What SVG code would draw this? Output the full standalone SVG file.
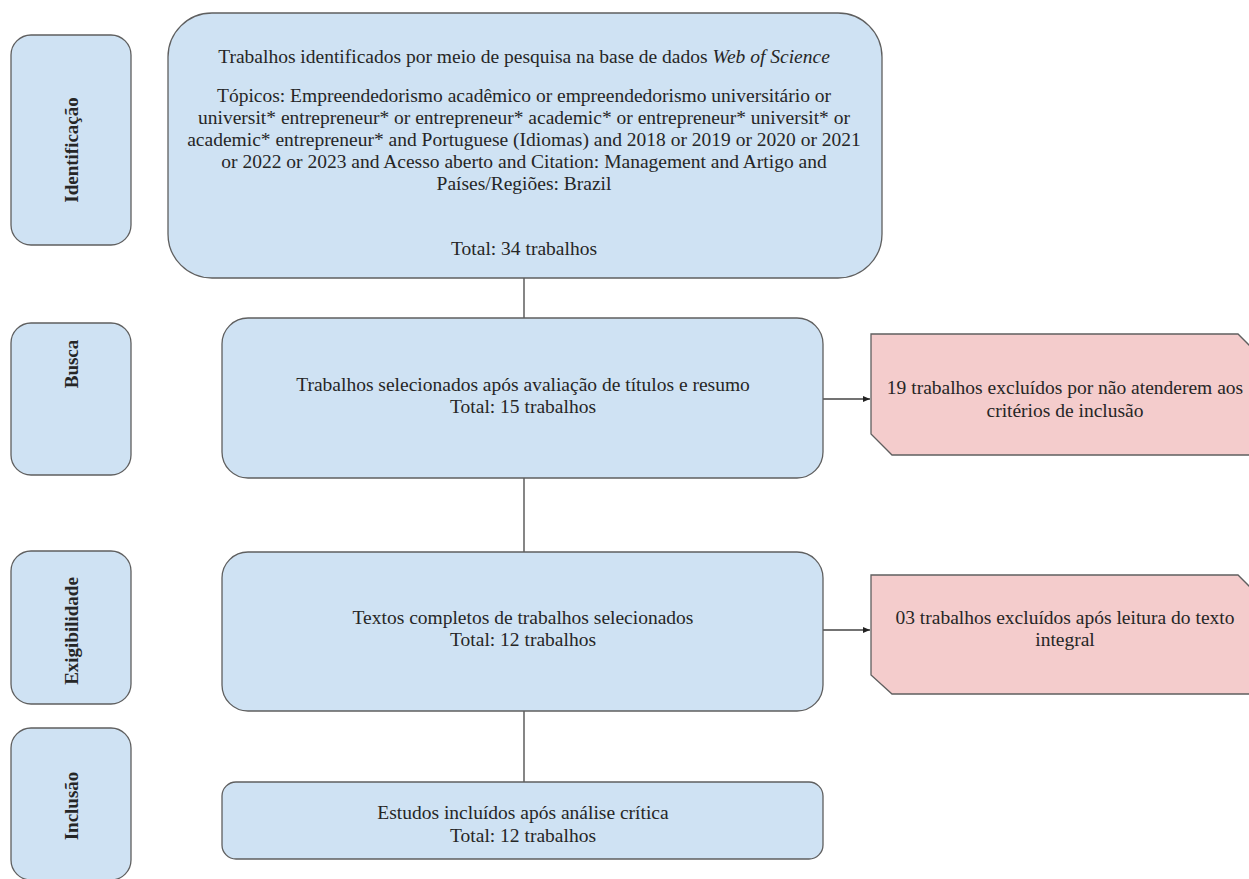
<svg xmlns="http://www.w3.org/2000/svg" width="1249" height="879" viewBox="0 0 1249 879">
<defs>
<style>
.b{fill:#cfe2f3;stroke:#5f5f5f;stroke-width:1.3}
.r{fill:#f4cccc;stroke:#5f5f5f;stroke-width:1.3}
.t{font-size:19.5px;fill:#262626;text-anchor:middle}
.s{font-size:19px;font-weight:bold;fill:#262626;text-anchor:middle}
.c{stroke:#444;stroke-width:1.3;fill:none}
</style>
<marker id="ah" markerWidth="8" markerHeight="8" refX="7" refY="4" orient="auto" markerUnits="userSpaceOnUse">
<path d="M0,1 L7,4 L0,7 Z" fill="#222"/>
</marker>
</defs>
<rect width="1249" height="879" fill="#fff"/>

<g id="connectors">
<line class="c" x1="524" y1="278" x2="524" y2="318"/>
<line class="c" x1="524" y1="478" x2="524" y2="552"/>
<line class="c" x1="524" y1="711" x2="524" y2="782"/>
<line class="c" x1="823" y1="399" x2="870" y2="399" marker-end="url(#ah)"/>
<line class="c" x1="823" y1="630" x2="870" y2="630" marker-end="url(#ah)"/>
</g>

<g font-family="Liberation Serif, serif">
<g id="lbl-identificacao">
<rect class="b" x="11" y="35" width="120" height="210" rx="20"/>
<text class="s" transform="translate(78,150) rotate(-90)">Identificação</text>
</g>
<g id="lbl-busca">
<rect class="b" x="11" y="323" width="120" height="152" rx="20"/>
<text class="s" transform="translate(78,364) rotate(-90)">Busca</text>
</g>
<g id="lbl-exigibilidade">
<rect class="b" x="11" y="551" width="120" height="153" rx="20"/>
<text class="s" transform="translate(78,631) rotate(-90)">Exigibilidade</text>
</g>
<g id="lbl-inclusao">
<rect class="b" x="11" y="728" width="120" height="152" rx="20"/>
<text class="s" transform="translate(78,806) rotate(-90)">Inclusão</text>
</g>

<g id="n-identificados">
<rect class="b" x="168" y="13" width="714" height="265" rx="44"/>
<text class="t" x="524" y="63">Trabalhos identificados por meio de pesquisa na base de dados <tspan font-style="italic">Web of Science</tspan></text>
<text class="t" x="524" y="102">Tópicos: Empreendedorismo acadêmico or empreendedorismo universitário or</text>
<text class="t" x="524" y="124">universit* entrepreneur* or entrepreneur* academic* or entrepreneur* universit* or</text>
<text class="t" x="524" y="146">academic* entrepreneur* and Portuguese (Idiomas) and 2018 or 2019 or 2020 or 2021</text>
<text class="t" x="524" y="168">or 2022 or 2023 and Acesso aberto and Citation: Management and Artigo and</text>
<text class="t" x="524" y="190">Países/Regiões: Brazil</text>
<text class="t" x="524" y="255">Total: 34 trabalhos</text>
</g>

<g id="n-selecionados">
<rect class="b" x="222" y="318" width="601" height="160" rx="26"/>
<text class="t" x="523" y="391">Trabalhos selecionados após avaliação de títulos e resumo</text>
<text class="t" x="523" y="413">Total: 15 trabalhos</text>
</g>

<g id="n-textos">
<rect class="b" x="222" y="552" width="601" height="159" rx="26"/>
<text class="t" x="523" y="624">Textos completos de trabalhos selecionados</text>
<text class="t" x="523" y="646">Total: 12 trabalhos</text>
</g>

<g id="n-estudos">
<rect class="b" x="222" y="782" width="601" height="77" rx="14"/>
<text class="t" x="523" y="819">Estudos incluídos após análise crítica</text>
<text class="t" x="523" y="842">Total: 12 trabalhos</text>
</g>

<g id="n-excluidos1">
<polygon class="r" points="871,334 1238,334 1258,354 1258,455 892,455 871,434"/>
<text class="t" x="1065" y="394">19 trabalhos excluídos por não atenderem aos</text>
<text class="t" x="1065" y="417">critérios de inclusão</text>
</g>

<g id="n-excluidos2">
<polygon class="r" points="871,575 1238,575 1258,595 1258,694 892,694 871,675"/>
<text class="t" x="1065" y="624">03 trabalhos excluídos após leitura do texto</text>
<text class="t" x="1065" y="646">integral</text>
</g>
</g>
</svg>
